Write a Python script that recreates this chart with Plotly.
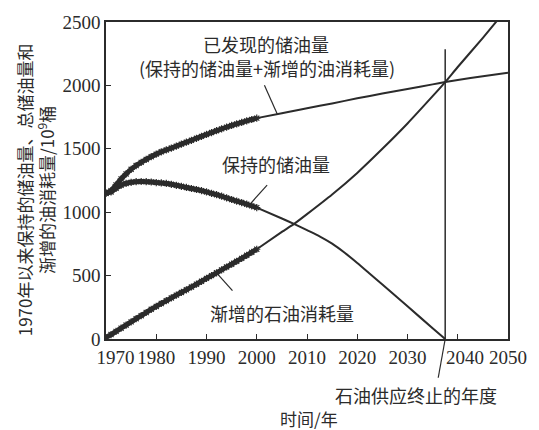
import numpy as np
import plotly.graph_objects as go

# Observed period, 1970-2000 (units: 10^9 barrels)
hist_years = list(range(1970, 2001))
hist_discovered = [1150, 1170, 1215, 1262, 1302, 1338, 1368, 1393, 1416, 1438,
                   1458, 1476, 1491, 1506, 1521, 1537, 1552, 1567, 1583, 1598,
                   1613, 1628, 1643, 1657, 1671, 1684, 1696, 1708, 1720, 1731, 1742]
hist_retained = [1150, 1160, 1188, 1212, 1227, 1236, 1241, 1242, 1241, 1238,
                 1234, 1231, 1227, 1220, 1212, 1204, 1195, 1187, 1179, 1170,
                 1160, 1149, 1138, 1126, 1113, 1100, 1088, 1076, 1063, 1050, 1036]
hist_consumption = [12, 35, 60, 85, 110, 135, 160, 184, 209, 234,
                    257, 280, 302, 324, 346, 367, 388, 410, 432, 455,
                    478, 500, 522, 545, 568, 590, 613, 636, 660, 684, 708]

# Projection, 2000-2050
proj_years = [2000, 2005, 2007.5, 2010, 2015, 2020, 2025, 2030, 2035, 2037.5, 2040, 2045, 2050]
proj_discovered = [1742, 1780, 1800, 1820, 1858, 1898, 1936, 1972, 2008, 2026, 2043, 2072, 2100]
proj_consumption = [708, 845, 910, 985, 1140, 1310, 1500, 1700, 1915, 2026, 2145, 2375, 2615]
proj_retained_years = [2000, 2005, 2007.5, 2010, 2012.5, 2015, 2017.5, 2020,
                       2022.5, 2025, 2030, 2035, 2037.5]
proj_retained = [1036, 950, 906, 858, 810, 752, 680, 600, 515, 430, 258, 85, 0]

END_YEAR = 2037.5          # year retained reserves reach zero
END_LINE_TOP = 2285        # height of the marker line for that year

x_ticks = [1970, 1980, 1990, 2000, 2010, 2020, 2030, 2040, 2050]
y_ticks = [0, 500, 1000, 1500, 2000, 2500]

X_RANGE = [1970, 2050]
Y_RANGE = [0, 2500]
PLOT_W, PLOT_H = 404, 319          # plot-area size in pixels
YR_PER_PX = (X_RANGE[1] - X_RANGE[0]) / PLOT_W
VAL_PER_PX = (Y_RANGE[1] - Y_RANGE[0]) / PLOT_H

INK = "#2b2b2b"
SERIF = "Liberation Serif, Noto Sans CJK SC, serif"
CJK = "Noto Sans CJK SC, Liberation Serif, sans-serif"

# nudge a few year labels right (clear of the y axis and the leader line)
LABEL_PAD = {1970: 4, 2040: 3}
x_tick_text = ["\u00a0" * LABEL_PAD.get(t, 0) + str(t) for t in x_ticks]

fig = go.Figure()

# projected curves (thin lines)
for xs, ys in [(proj_years, proj_discovered),
               (proj_years, proj_consumption),
               (proj_retained_years, proj_retained)]:
    fig.add_trace(go.Scatter(x=xs, y=ys, mode="lines",
                             line=dict(color=INK, width=2, shape="spline", smoothing=0.5),
                             hoverinfo="skip", showlegend=False))

# observed data (thick, jagged marker band)
for ys in [hist_discovered, hist_retained, hist_consumption]:
    fig.add_trace(go.Scatter(x=hist_years, y=ys, mode="lines+markers",
                             line=dict(color=INK, width=5, shape="spline", smoothing=0.5),
                             marker=dict(symbol="asterisk-open", size=6,
                                         line=dict(color=INK, width=1.2)),
                             showlegend=False))

# vertical line at the end-of-supply year
fig.add_shape(type="line", xref="x", yref="y", x0=END_YEAR, x1=END_YEAR,
              y0=0, y1=END_LINE_TOP, line=dict(color=INK, width=1.5))


def curve_y(year, xs, ys):
    return float(np.interp(year, xs, ys))


all_disc_x = hist_years + proj_years[1:]
all_disc_y = hist_discovered + proj_discovered[1:]

# leader lines inside the plot: anchor on a curve, run a pixel offset (dx right, dy down)
leaders = [
    (2004.1, curve_y(2004.1, all_disc_x, all_disc_y), -13, -29),
    (1998.5, curve_y(1998.5, hist_years, hist_retained), 18, -20),
    (1992.0, curve_y(1992.0, hist_years, hist_consumption), 16, 18),
]
for lx, ly, dx, dy in leaders:
    fig.add_shape(type="line", xref="x", yref="y",
                  x0=lx, y0=ly, x1=lx + dx * YR_PER_PX, y1=ly - dy * VAL_PER_PX,
                  line=dict(color=INK, width=1.2))

# leader below the axis, pointing at the end-of-supply year
fig.add_shape(type="line", xref="x", yref="paper",
              x0=END_YEAR, y0=0, x1=END_YEAR - 7 * YR_PER_PX, y1=-39 / PLOT_H,
              line=dict(color=INK, width=1.2))

labels = [
    ("已发现的储油量", 2001.9, 2327),
    ("(保持的储油量+渐增的油消耗量)", 2002.1, 2138),
    ("保持的储油量", 2003.9, 1384),
    ("渐增的石油消耗量", 2005.0, 204),
]
for txt, lx, ly in labels:
    fig.add_annotation(x=lx, y=ly, xref="x", yref="y", text=txt, showarrow=False,
                       xanchor="center", yanchor="middle",
                       font=dict(family=CJK, size=18, color=INK))

fig.add_annotation(x=0.772, y=-0.176, xref="paper", yref="paper",
                   text="石油供应终止的年度", showarrow=False,
                   xanchor="center", yanchor="middle",
                   font=dict(family=CJK, size=18, color=INK))
fig.add_annotation(x=0.505, y=-0.252, xref="paper", yref="paper",
                   text="时间/年", showarrow=False,
                   xanchor="center", yanchor="middle",
                   font=dict(family=CJK, size=17, color=INK))

# two-line rotated y-axis title
fig.add_annotation(x=-0.176, y=0.47, xref="paper", yref="paper",
                   text="1970年以来保持的储油量、总储油量和<br>渐增的油消耗量/10<sup>9</sup>桶",
                   textangle=-90, xanchor="center", yanchor="middle", align="center",
                   showarrow=False, font=dict(family=CJK, size=17, color=INK))

axis_common = dict(showgrid=False, zeroline=False, showline=True, linecolor=INK,
                   linewidth=1.5, mirror=True, ticks="inside", ticklen=5,
                   tickwidth=1.2, tickcolor=INK,
                   tickfont=dict(family=SERIF, size=19, color=INK))

fig.update_xaxes(range=X_RANGE, tickvals=x_ticks, ticktext=x_tick_text, **axis_common)
fig.update_yaxes(range=Y_RANGE, tickvals=y_ticks, **axis_common)

fig.update_layout(width=539, height=430,
                  margin=dict(l=106, r=29, t=20, b=91),
                  paper_bgcolor="white", plot_bgcolor="white")

fig.write_html("out.html")
